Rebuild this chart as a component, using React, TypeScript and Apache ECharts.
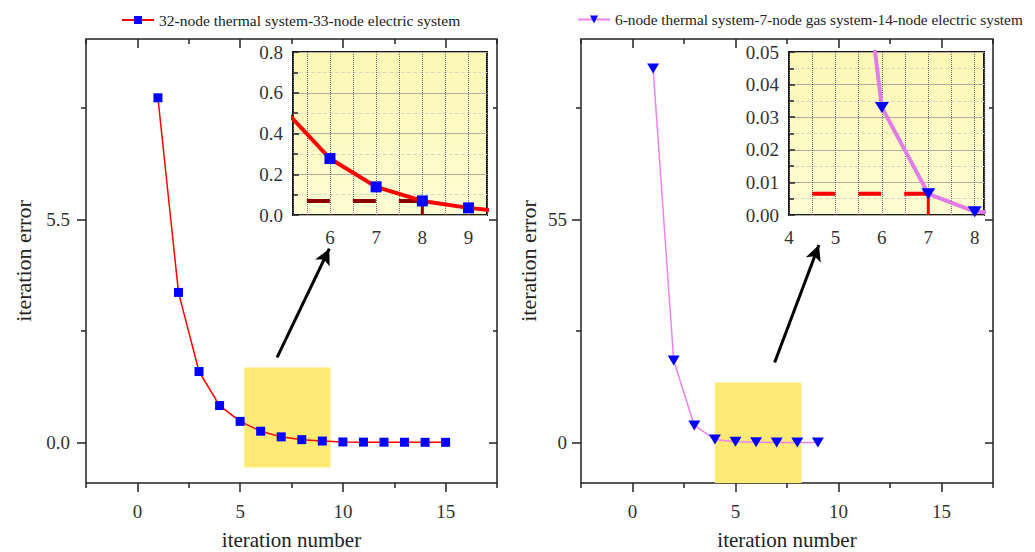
import React, { useEffect, useRef } from 'react';
import * as echarts from 'echarts';

// ---------- data ----------
const iterationsA = [1, 2, 3, 4, 5, 6, 7, 8, 9, 10, 11, 12, 13, 14, 15];
const errorsA = [8.5, 3.7, 1.75, 0.91, 0.52, 0.277, 0.138, 0.069, 0.035, 0.012, 0.008, 0.006, 0.005, 0.004, 0.003];
const iterationsB = [1, 2, 3, 4, 5, 6, 7, 8, 9];
const errorsB = [92.2, 20.2, 4.2, 0.75, 0.15, 0.033, 0.0065, 0.001, 0.0003];

const nameA = '32-node thermal system-33-node electric system';
const nameB = '6-node thermal system-7-node gas system-14-node electric system';

const xMajorTicks = [0, 5, 10, 15];
const xMinorTicks = [-2.5, 2.5, 7.5, 12.5, 17.5];
const yMajorTicksA = [0, 5.5];
const yMinorTicksA = [2.75, 8.25];
const yMajorTicksB = [0, 55];
const yMinorTicksB = [27.5, 82.5];

// zoom windows (inset ranges)
const insetXA = [5.2, 9.4];
const insetYA = [0, 0.8];
const insetXB = [4, 8.2];
const insetYB = [0, 0.05];
// highlighted boxes in main plots
const boxA = [[5.2, 1.85], [9.4, -0.62]];
const boxB = [[4.0, 14.8], [8.2, -10]];
// arrows
const arrowA = [[6.8, 2.1], [9.34, 4.78]];
const arrowB = [[6.9, 19.7], [9.05, 48.7]];
// convergence guides
const guideHA = [[5.5, 0.069], [8, 0.069]];
const guideVA = [[8, 0.069], [8, 0]];
const guideHB = [[4.5, 0.0065], [7, 0.0065]];
const guideVB = [[7, 0.0065], [7, 0]];

const zip = (xs: number[], ys: number[]) => xs.map((x, i) => [x, ys[i]]);

const FONT = 'Liberation Serif';
const AX = '#222';

function mainX(g: number) {
  const base: any = {
    gridIndex: g, type: 'value', min: -2.5, max: 17.5,
    splitLine: { show: false }, axisLine: { show: false, onZero: false },
  };
  return [
    {
      ...base, position: 'bottom',
      axisLabel: { customValues: xMajorTicks, margin: 19, fontSize: 19, color: '#333', fontFamily: FONT, formatter: (v: number) => String(v) },
      axisTick: { customValues: xMinorTicks, length: 5, lineStyle: { color: AX, width: 1.5 } },
      name: 'iteration number', nameLocation: 'middle', nameGap: 46,
      nameTextStyle: { fontSize: 21, color: AX, fontFamily: FONT },
    },
    { ...base, position: 'bottom', axisLabel: { show: false }, axisTick: { customValues: xMajorTicks, length: 9, lineStyle: { color: AX, width: 1.5 } } },
    { ...base, position: 'top', axisLabel: { show: false }, axisTick: { customValues: xMinorTicks, inside: true, length: 5, lineStyle: { color: AX, width: 1.5 } } },
    { ...base, position: 'top', axisLabel: { show: false }, axisTick: { customValues: xMajorTicks, inside: true, length: 9, lineStyle: { color: AX, width: 1.5 } } },
  ];
}

function mainY(g: number, min: number, max: number, major: number[], minor: number[], fmt: (v: number) => string, nameGap: number, labelMargin: number) {
  const base: any = {
    gridIndex: g, type: 'value', min, max,
    splitLine: { show: false }, axisLine: { show: false, onZero: false },
  };
  return [
    {
      ...base, position: 'left',
      axisLabel: { customValues: major, margin: labelMargin, fontSize: 19, color: '#333', fontFamily: FONT, formatter: fmt },
      axisTick: { customValues: minor, length: 5, lineStyle: { color: AX, width: 1.5 } },
      name: 'iteration error', nameLocation: 'middle', nameGap,
      nameTextStyle: { fontSize: 22, color: AX, fontFamily: FONT },
    },
    { ...base, position: 'left', axisLabel: { show: false }, axisTick: { customValues: major, length: 9, lineStyle: { color: AX, width: 1.5 } } },
    { ...base, position: 'right', axisLabel: { show: false }, axisTick: { customValues: minor, inside: true, length: 4, lineStyle: { color: AX, width: 1.5 } } },
    { ...base, position: 'right', axisLabel: { show: false }, axisTick: { customValues: major, inside: true, length: 8, lineStyle: { color: AX, width: 1.5 } } },
  ];
}

const isInt = (v: number) => Math.abs(v - Math.round(v)) < 1e-6;

function insetX(g: number, range: number[]) {
  return {
    gridIndex: g, type: 'value', min: range[0], max: range[1], splitNumber: 8,
    axisLine: { show: false, onZero: false }, axisTick: { show: false },
    axisLabel: { margin: 13, fontSize: 19, color: '#333', fontFamily: FONT, formatter: (v: number) => (isInt(v) ? String(Math.round(v)) : '') },
    splitLine: { show: true, lineStyle: { color: '#666', type: 'dotted', width: 1 } },
  };
}

function insetY(g: number, range: number[], interval: number, digits: number) {
  return {
    gridIndex: g, type: 'value', min: range[0], max: range[1], interval,
    axisLine: { show: false, onZero: false },
    axisTick: { show: true, inside: true, length: 6, lineStyle: { color: AX, width: 1.5 } },
    minorTick: { show: true, splitNumber: 2, length: 5, lineStyle: { color: AX, width: 1.5 } },
    axisLabel: { margin: 10, fontSize: 19, color: '#333', fontFamily: FONT, formatter: (v: number) => v.toFixed(digits) },
    splitLine: { show: true, lineStyle: { color: '#b0ae9e', width: 1 } },
    minorSplitLine: { show: true, lineStyle: { color: '#dcd9c0', width: 1, type: 'dashed' } },
  };
}

const insetBg = {
  type: 'linear', x: 0, y: 0, x2: 0, y2: 1,
  colorStops: [{ offset: 0, color: '#fcf7b4' }, { offset: 1, color: '#fffdd4' }],
};

function arrowLine(seg: number[][]) {
  return {
    silent: true, symbol: ['none', 'arrow'], symbolSize: [12, 16],
    label: { show: false }, emphasis: { disabled: true },
    lineStyle: { color: '#000', width: 3, type: 'solid' },
    data: [[{ coord: seg[0] }, { coord: seg[1] }]],
  };
}

function boxArea(b: number[][]) {
  return {
    silent: true, itemStyle: { color: '#ffea75' }, emphasis: { disabled: true },
    data: [[{ coord: b[0] }, { coord: b[1] }]],
  };
}

function guide(name: string, xi: number, data: number[][], color: string, width: number, type: any) {
  return {
    name, type: 'line', xAxisIndex: xi, yAxisIndex: xi, data, symbol: 'none', silent: true,
    lineStyle: { color, width, type }, emphasis: { disabled: true },
  };
}

export default function App() {
  const ref = useRef<HTMLDivElement>(null);
  useEffect(() => {
    document.body.style.margin = '0';
    const chart = echarts.init(ref.current!, undefined, { renderer: 'svg' });
    const option: any = {
      animation: false,
      textStyle: { fontFamily: FONT },
      legend: [
        {
          data: [nameA], left: 116, top: 7, itemWidth: 32, itemHeight: 10, selectedMode: false,
          textStyle: { fontSize: 15.5, color: AX, fontFamily: FONT },
        },
        {
          data: [nameB], left: 572, top: 7, itemWidth: 32, itemHeight: 10, selectedMode: false,
          textStyle: { fontSize: 15.3, color: AX, fontFamily: FONT },
        },
      ],
      grid: [
        { left: 86, top: 39, width: 411, height: 444, show: true, borderColor: AX, borderWidth: 1.5, backgroundColor: 'transparent', containLabel: false, outerBoundsMode: 'none' },
        { left: 293, top: 52, width: 194, height: 163, show: true, borderColor: '#1a1a1a', borderWidth: 2, backgroundColor: insetBg, containLabel: false, outerBoundsMode: 'none' },
        { left: 581, top: 39, width: 412, height: 444, show: true, borderColor: AX, borderWidth: 1.5, backgroundColor: 'transparent', containLabel: false, outerBoundsMode: 'none' },
        { left: 789, top: 52, width: 195, height: 163, show: true, borderColor: '#1a1a1a', borderWidth: 2, backgroundColor: insetBg, containLabel: false, outerBoundsMode: 'none' },
      ],
      xAxis: [
        ...mainX(0),
        insetX(1, insetXA),
        ...mainX(2),
        insetX(3, insetXB),
      ],
      yAxis: [
        ...mainY(0, -1, 9.95, yMajorTicksA, yMinorTicksA, (v: number) => v.toFixed(1), 52, 16),
        insetY(1, insetYA, 0.2, 1),
        ...mainY(2, -10, 99.5, yMajorTicksB, yMinorTicksB, (v: number) => String(v), 42, 14),
        insetY(3, insetYB, 0.01, 2),
      ],
      series: [
        {
          name: nameA, type: 'line', xAxisIndex: 0, yAxisIndex: 0, data: zip(iterationsA, errorsA),
          symbol: 'rect', symbolSize: 9, itemStyle: { color: '#0000ff' },
          lineStyle: { color: '#ff0000', width: 1.5 }, emphasis: { disabled: true },
          markArea: boxArea(boxA), markLine: arrowLine(arrowA),
        },
        {
          name: nameB, type: 'line', xAxisIndex: 5, yAxisIndex: 5, data: zip(iterationsB, errorsB),
          symbol: 'triangle', symbolRotate: 180, symbolSize: [12, 10], itemStyle: { color: '#0000ff' },
          lineStyle: { color: '#ee82ee', width: 1.5 }, emphasis: { disabled: true },
          markArea: boxArea(boxB), markLine: arrowLine(arrowB),
        },
        guide('guideHA', 4, guideHA, '#8b0000', 4, [23, 23]),
        guide('guideVA', 4, guideVA, '#8b0000', 3, 'solid'),
        {
          name: 'insetA', type: 'line', xAxisIndex: 4, yAxisIndex: 4, data: zip(iterationsA, errorsA),
          smooth: false, symbol: 'rect', symbolSize: 11, itemStyle: { color: '#0000ff' },
          lineStyle: { color: '#ff0000', width: 4 }, emphasis: { disabled: true }, clip: true,
        },
        guide('guideHB', 9, guideHB, '#ff0000', 4, [23, 23]),
        guide('guideVB', 9, guideVB, '#ff0000', 3, 'solid'),
        {
          name: 'insetB', type: 'line', xAxisIndex: 9, yAxisIndex: 9, data: zip(iterationsB, errorsB),
          smooth: false, symbol: 'triangle', symbolRotate: 180, symbolSize: [14, 11],
          itemStyle: { color: '#0000ff' },
          lineStyle: { color: '#e07ee8', width: 4 }, emphasis: { disabled: true }, clip: true,
        },
      ],
    };
    chart.setOption(option);
    return () => chart.dispose();
  }, []);
  return <div ref={ref} style={{ width: 1035, height: 552 }} />;
}
